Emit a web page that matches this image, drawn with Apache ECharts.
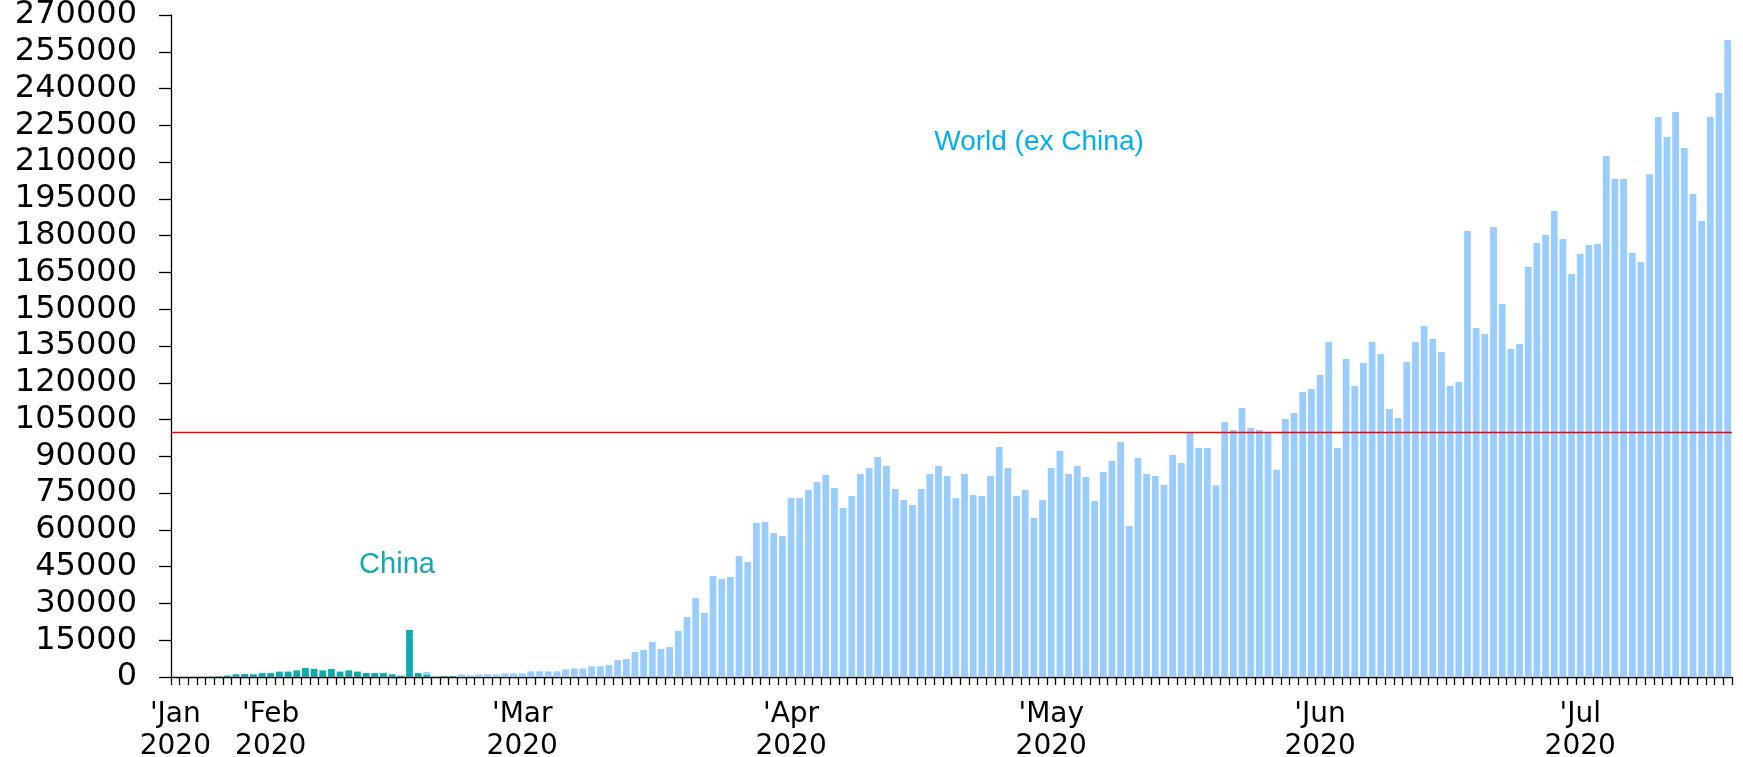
<!DOCTYPE html>
<html>
<head>
<meta charset="utf-8">
<script src="https://cdn.jsdelivr.net/npm/echarts@6/dist/echarts.min.js"></script>
<style>
html,body{margin:0;padding:0;background:#ffffff;}
#chart{width:1743px;height:757px;}
</style>
</head>
<body>
<div id="chart"></div>
<script>
// ---- data ----
const startDate = [2020, 0, 21];   // 21 Jan 2020, daily categories
const dayCount = 180;              // through 18 Jul 2020
const monthNames = ['Jan','Feb','Mar','Apr','May','Jun','Jul','Aug','Sep','Oct','Nov','Dec'];
const yTickValues = [0, 270000, 15000]; // min, max, interval

const categories = [];
for (let i = 0; i < dayCount; i++) {
  const d = new Date(Date.UTC(startDate[0], startDate[1], startDate[2] + i));
  const mm = String(d.getUTCMonth() + 1).padStart(2, '0');
  const dd = String(d.getUTCDate()).padStart(2, '0');
  categories.push(d.getUTCFullYear() + '-' + mm + '-' + dd);
}

// daily new cases, China (bottom of stack)
const chinaNew = [
  0, 0, 0, 0, 100, 200, 600, 1100, 1200, 1100,
  1600, 1600, 2200, 2200, 2700, 3700, 3300, 2700, 3300, 2200,
  2700, 2200, 1600, 1600, 1600, 1100, 550, 19200, 1600, 1000,
  100, 400, 400
];

// daily new cases, World excluding China (top of stack)
const worldExChinaNew = [
  0, 0, 0, 0, 0, 0, 0, 0, 0, 0,
  0, 0, 0, 0, 0, 0, 0, 0, 0, 0,
  0, 0, 0, 0, 0, 0, 0, 0, 0, 1000,
  0, 0, 0, 1100, 700, 1100, 1100, 1100, 1500, 1500,
  1500, 2300, 2300, 2300, 2300, 3100, 3500, 3500, 4350, 4400,
  4850, 6900, 7300, 10200, 11000, 14300, 11400, 12200, 18800, 24500,
  32200, 26100, 41200, 40000, 40800, 49300, 46900, 62800, 63200, 58700,
  57500, 73000, 73000, 76300, 79500, 82400, 77100, 68900, 73800, 82800,
  85200, 89700, 86100, 76700, 72200, 70200, 76700, 82800, 86100, 82000,
  73000, 82800, 74200, 73800, 82000, 93800, 85200, 73800, 76300, 64800,
  72200, 85200, 92200, 82800, 86100, 81600, 71800, 83600, 88100, 95800,
  61600, 89300, 82800, 82000, 78300, 90500, 87300, 99500, 93400, 93400,
  78200, 104000, 100700, 109700, 101600, 100700, 99800, 84500, 105200, 107700,
  116200, 117500, 123200, 136600, 93400, 129700, 118700, 128100, 136600, 131700,
  109300, 105600, 128500, 136600, 143200, 137900, 132600, 118700, 120300, 181900,
  142300, 139900, 183500, 152100, 133800, 135800, 167200, 177000, 180300, 190100,
  178600, 164400, 172500, 176200, 176600, 212500, 203100, 203100, 172900, 169300,
  205100, 228400, 220200, 230400, 215800, 197000, 186000, 228400, 238200, 259800
];

const referenceLevel = 100000;

// ---- chart ----
const chart = echarts.init(document.getElementById('chart'), null, {renderer: 'canvas'});

function isLabelDay(index, value) {
  return index === 0 || value.slice(8) === '01';
}

chart.setOption({
  animation: false,
  backgroundColor: '#ffffff',
  grid: {left: 171, right: 11, top: 15, bottom: 80, containLabel: false, outerBoundsMode: 'none'},
  xAxis: {
    type: 'category',
    data: categories,
    boundaryGap: true,
    axisLine: {show: true, lineStyle: {color: '#000000', width: 1.3}},
    axisTick: {show: true, interval: 0, inside: false, length: 8, alignWithLabel: false,
               lineStyle: {color: '#000000', width: 1.3}},
    axisLabel: {
      show: true,
      interval: isLabelDay,
      margin: 22,
      fontFamily: 'DejaVu Sans',
      fontSize: 28,
      lineHeight: 32,
      color: '#000000',
      formatter: function (value) {
        const m = parseInt(value.slice(5, 7), 10) - 1;
        return "'" + monthNames[m] + '\n' + value.slice(0, 4);
      }
    },
    splitLine: {show: false}
  },
  yAxis: {
    type: 'value',
    min: yTickValues[0],
    max: yTickValues[1],
    interval: yTickValues[2],
    axisLine: {show: true, lineStyle: {color: '#000000', width: 1.3}},
    axisTick: {show: true, inside: false, length: 12, lineStyle: {color: '#000000', width: 1.3}},
    axisLabel: {
      margin: 34,
      fontFamily: 'DejaVu Sans',
      fontSize: 32,
      color: '#000000',
      formatter: function (v) { return String(v); }
    },
    splitLine: {show: false}
  },
  series: [
    {
      name: 'China',
      type: 'bar',
      stack: 'total',
      data: chinaNew,
      barCategoryGap: '22%',
      itemStyle: {color: '#11a9b1'}
    },
    {
      name: 'World (ex China)',
      type: 'bar',
      stack: 'total',
      data: worldExChinaNew,
      barCategoryGap: '22%',
      itemStyle: {color: '#99ccff'},
      markLine: {
        silent: true,
        symbol: ['none', 'none'],
        label: {show: false},
        lineStyle: {color: '#ff0000', width: 1.3, type: 'solid'},
        data: [{yAxis: referenceLevel}]
      }
    }
  ],
  graphic: [
    {
      type: 'text', x: 1039, y: 142, silent: true,
      style: {text: 'World (ex China)', fill: '#00b0f0',
              font: '28px "Liberation Sans", Arial, sans-serif',
              textAlign: 'center', textVerticalAlign: 'middle'}
    },
    {
      type: 'text', x: 397, y: 565, silent: true,
      style: {text: 'China', fill: '#11a9b1',
              font: '29px "Liberation Sans", Arial, sans-serif',
              textAlign: 'center', textVerticalAlign: 'middle'}
    }
  ]
});
</script>
</body>
</html>
